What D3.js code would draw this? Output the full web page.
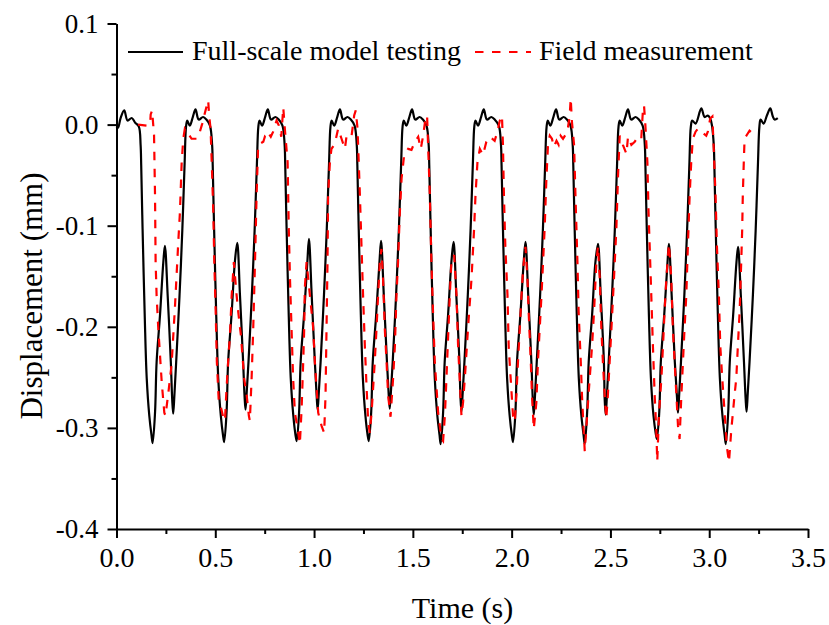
<!DOCTYPE html>
<html>
<head>
<meta charset="utf-8">
<script src="https://cdn.jsdelivr.net/npm/d3@7"></script>
<style>
  body { margin: 0; background: #fff; }
  text { font-family: "Liberation Serif", "Times New Roman", serif; fill: #000; }
</style>
</head>
<body>
<div id="chart"></div>
<script>
// series names, ticks
const seriesNames = ["Full-scale model testing", "Field measurement"];
const xTicks = [0, 0.5, 1.0, 1.5, 2.0, 2.5, 3.0, 3.5];
const xMinorTicks = [0.25, 0.75, 1.25, 1.75, 2.25, 2.75, 3.25];
const yTicks = [0.1, 0.0, -0.1, -0.2, -0.3, -0.4];
const yMinorTicks = [0.05, -0.05, -0.15, -0.25, -0.35];

// [time (s), displacement (mm)]
const modelTesting = [
  [0.000,-0.002],[0.008,-0.003],[0.020,0.006],[0.039,0.014],[0.056,0.004],[0.077,0.0065],[0.094,0.002],[0.113,-0.002],
  [0.122,-0.020],[0.125,-0.040],[0.132,-0.103],[0.143,-0.190],[0.153,-0.251],[0.166,-0.288],[0.177,-0.307],[0.183,-0.315],
  [0.195,-0.285],[0.203,-0.235],[0.220,-0.189],[0.237,-0.136],[0.245,-0.120],[0.259,-0.169],[0.275,-0.235],[0.282,-0.272],[0.287,-0.286],
  [0.293,-0.268],[0.302,-0.235],[0.319,-0.169],[0.333,-0.105],[0.345,-0.037],[0.352,-0.002],
  [0.358,0.004],[0.371,-0.001],[0.387,0.008],[0.400,0.015],[0.416,0.005],[0.438,0.0075],[0.455,0.005],[0.473,-0.001],
  [0.484,-0.020],[0.487,-0.040],[0.494,-0.103],[0.505,-0.190],[0.515,-0.251],[0.528,-0.288],[0.539,-0.307],[0.545,-0.314],
  [0.557,-0.285],[0.565,-0.235],[0.582,-0.189],[0.599,-0.136],[0.611,-0.117],[0.625,-0.169],[0.641,-0.235],[0.648,-0.268],[0.653,-0.282],
  [0.659,-0.265],[0.668,-0.235],[0.685,-0.169],[0.699,-0.105],[0.711,-0.037],[0.718,-0.002],
  [0.724,0.004],[0.737,-0.001],[0.753,0.008],[0.766,0.015],[0.782,0.005],[0.804,0.0075],[0.821,0.005],[0.840,-0.001],
  [0.851,-0.020],[0.854,-0.040],[0.861,-0.103],[0.872,-0.190],[0.882,-0.251],[0.895,-0.288],[0.906,-0.307],[0.912,-0.313],
  [0.924,-0.285],[0.932,-0.235],[0.949,-0.189],[0.966,-0.136],[0.974,-0.113],[0.988,-0.169],[1.004,-0.235],[1.013,-0.268],[1.018,-0.282],
  [1.024,-0.265],[1.033,-0.235],[1.050,-0.169],[1.064,-0.105],[1.076,-0.037],[1.083,-0.002],
  [1.089,0.004],[1.102,-0.001],[1.118,0.008],[1.131,0.015],[1.147,0.005],[1.169,0.0075],[1.186,0.005],[1.205,-0.001],
  [1.216,-0.020],[1.219,-0.040],[1.226,-0.103],[1.237,-0.190],[1.247,-0.251],[1.260,-0.288],[1.271,-0.307],[1.277,-0.313],
  [1.289,-0.285],[1.297,-0.235],[1.314,-0.189],[1.331,-0.136],[1.339,-0.115],[1.353,-0.169],[1.369,-0.235],[1.378,-0.268],[1.383,-0.281],
  [1.389,-0.264],[1.398,-0.235],[1.415,-0.169],[1.429,-0.105],[1.441,-0.037],[1.448,-0.002],
  [1.454,0.004],[1.467,-0.001],[1.483,0.008],[1.496,0.015],[1.512,0.005],[1.534,0.0075],[1.551,0.005],[1.569,-0.001],
  [1.580,-0.020],[1.583,-0.040],[1.590,-0.103],[1.601,-0.190],[1.611,-0.251],[1.624,-0.288],[1.635,-0.307],[1.641,-0.316],
  [1.653,-0.285],[1.661,-0.235],[1.678,-0.189],[1.695,-0.136],[1.706,-0.116],[1.720,-0.169],[1.736,-0.235],[1.741,-0.270],[1.746,-0.284],
  [1.752,-0.266],[1.761,-0.235],[1.778,-0.169],[1.792,-0.105],[1.804,-0.037],[1.811,-0.002],
  [1.817,0.004],[1.830,-0.001],[1.846,0.008],[1.859,0.015],[1.875,0.005],[1.897,0.0075],[1.914,0.005],[1.935,-0.001],
  [1.946,-0.020],[1.949,-0.040],[1.956,-0.103],[1.967,-0.190],[1.977,-0.251],[1.990,-0.288],[2.001,-0.307],[2.007,-0.314],
  [2.019,-0.285],[2.027,-0.235],[2.044,-0.189],[2.061,-0.136],[2.070,-0.116],[2.084,-0.169],[2.100,-0.235],[2.107,-0.272],[2.112,-0.287],
  [2.118,-0.269],[2.127,-0.235],[2.144,-0.169],[2.158,-0.105],[2.170,-0.037],[2.177,-0.002],
  [2.183,0.004],[2.196,-0.001],[2.212,0.008],[2.225,0.015],[2.241,0.005],[2.263,0.0075],[2.280,0.005],[2.298,-0.001],
  [2.309,-0.020],[2.312,-0.040],[2.319,-0.103],[2.330,-0.190],[2.340,-0.251],[2.353,-0.288],[2.364,-0.307],[2.370,-0.316],
  [2.382,-0.285],[2.390,-0.235],[2.407,-0.189],[2.424,-0.136],[2.437,-0.118],[2.451,-0.169],[2.467,-0.235],[2.471,-0.272],[2.476,-0.287],
  [2.482,-0.269],[2.491,-0.235],[2.508,-0.169],[2.522,-0.105],[2.534,-0.037],[2.541,-0.002],
  [2.547,0.004],[2.560,-0.001],[2.576,0.008],[2.589,0.015],[2.605,0.005],[2.627,0.0075],[2.644,0.005],[2.663,-0.001],
  [2.674,-0.020],[2.677,-0.040],[2.684,-0.103],[2.695,-0.190],[2.705,-0.251],[2.718,-0.288],[2.729,-0.305],[2.735,-0.311],
  [2.747,-0.285],[2.755,-0.235],[2.772,-0.189],[2.789,-0.136],[2.796,-0.118],[2.810,-0.169],[2.826,-0.235],[2.837,-0.270],[2.842,-0.285],
  [2.848,-0.267],[2.857,-0.235],[2.874,-0.169],[2.888,-0.105],[2.900,-0.037],[2.907,-0.002],
  [2.914,0.004],[2.931,0.001],[2.960,0.016],[2.977,0.0075],[2.993,0.009],[3.005,0.006],[3.014,-0.001],
  [3.023,-0.020],[3.026,-0.040],[3.033,-0.103],[3.044,-0.190],[3.054,-0.251],[3.067,-0.288],[3.078,-0.307],[3.084,-0.316],
  [3.096,-0.285],[3.104,-0.235],[3.121,-0.189],[3.138,-0.136],[3.146,-0.121],[3.160,-0.169],[3.176,-0.235],[3.184,-0.270],[3.189,-0.284],
  [3.195,-0.266],[3.204,-0.235],[3.221,-0.169],[3.235,-0.105],[3.247,-0.037],[3.254,-0.002],
  [3.260,0.005],[3.275,0.001],[3.292,0.009],[3.309,0.016],[3.322,0.008],[3.331,0.005],[3.347,0.0065]
];

const fieldMeasurement = [
  [0.109,0.000],[0.153,-0.001],[0.170,0.000],[0.173,0.010],[0.180,0.014],[0.190,-0.010],[0.195,-0.070],[0.198,-0.136],
  [0.203,-0.169],[0.211,-0.200],[0.229,-0.255],[0.242,-0.285],[0.248,-0.288],[0.262,-0.266],[0.279,-0.237],[0.296,-0.180],
  [0.313,-0.115],[0.321,-0.087],[0.330,-0.037],[0.338,-0.014],[0.346,-0.004],[0.380,-0.014],[0.406,-0.014],[0.422,-0.007],
  [0.434,0.001],[0.448,0.012],[0.464,0.024],[0.469,0.009],[0.476,-0.004],[0.482,-0.037],[0.490,-0.087],[0.495,-0.136],
  [0.502,-0.185],[0.508,-0.235],[0.518,-0.275],[0.529,-0.280],[0.541,-0.290],[0.549,-0.293],
  [0.557,-0.261],[0.565,-0.235],[0.574,-0.209],[0.583,-0.169],[0.594,-0.136],[0.608,-0.169],[0.616,-0.185],[0.630,-0.209],
  [0.646,-0.251],[0.659,-0.268],[0.670,-0.288],[0.675,-0.293],[0.684,-0.250],[0.692,-0.202],[0.701,-0.136],[0.709,-0.070],
  [0.717,-0.020],[0.726,-0.019],[0.743,-0.017],[0.751,-0.012],[0.760,-0.014],[0.771,-0.009],[0.781,-0.012],[0.793,-0.007],
  [0.810,0.004],[0.822,-0.001],[0.834,-0.012],[0.844,0.017],[0.852,-0.004],[0.866,-0.037],[0.872,-0.103],[0.878,-0.152],
  [0.886,-0.202],[0.894,-0.251],[0.903,-0.285],[0.917,-0.301],[0.928,-0.316],
  [0.937,-0.281],[0.945,-0.235],[0.950,-0.202],[0.953,-0.162],[0.962,-0.136],[0.979,-0.169],[0.995,-0.200],[1.004,-0.235],
  [1.021,-0.285],[1.038,-0.298],[1.051,-0.305],[1.058,-0.268],[1.063,-0.202],[1.068,-0.136],[1.071,-0.070],[1.080,-0.037],
  [1.088,-0.024],[1.105,-0.019],[1.122,-0.004],[1.139,-0.014],[1.156,-0.024],[1.164,-0.012],[1.172,-0.014],[1.190,-0.011],
  [1.203,0.009],[1.211,0.014],[1.220,-0.004],[1.232,-0.070],[1.240,-0.120],[1.248,-0.169],[1.257,-0.219],[1.266,-0.261],
  [1.274,-0.294],[1.282,-0.305],
  [1.291,-0.285],[1.307,-0.235],[1.316,-0.202],[1.324,-0.169],[1.333,-0.136],[1.341,-0.123],[1.349,-0.152],[1.358,-0.202],
  [1.367,-0.235],[1.375,-0.268],[1.387,-0.289],[1.400,-0.251],[1.409,-0.219],[1.417,-0.169],[1.425,-0.136],[1.434,-0.087],
  [1.443,-0.053],[1.456,-0.030],[1.476,-0.024],[1.493,-0.025],[1.510,-0.017],[1.527,-0.012],[1.540,-0.024],[1.552,-0.011],
  [1.564,0.006],[1.572,0.009],[1.577,-0.020],[1.586,-0.070],[1.594,-0.136],[1.602,-0.185],[1.611,-0.235],[1.628,-0.285],
  [1.645,-0.311],[1.653,-0.313],
  [1.662,-0.288],[1.670,-0.251],[1.678,-0.212],[1.687,-0.169],[1.695,-0.136],[1.709,-0.129],[1.721,-0.169],[1.729,-0.219],
  [1.737,-0.251],[1.746,-0.288],[1.754,-0.275],[1.763,-0.251],[1.779,-0.202],[1.797,-0.152],[1.810,-0.103],[1.817,-0.070],
  [1.827,-0.037],[1.839,-0.024],[1.855,-0.030],[1.872,-0.017],[1.889,-0.012],[1.914,-0.016],[1.928,-0.007],[1.940,0.004],
  [1.951,0.009],[1.956,-0.020],[1.961,-0.070],[1.968,-0.120],[1.979,-0.169],[1.985,-0.219],[1.995,-0.251],[2.007,-0.288],
  [2.016,-0.294],
  [2.024,-0.268],[2.032,-0.235],[2.041,-0.202],[2.050,-0.169],[2.058,-0.143],[2.070,-0.121],[2.080,-0.152],[2.086,-0.185],
  [2.097,-0.235],[2.103,-0.268],[2.112,-0.301],[2.125,-0.275],[2.133,-0.235],[2.142,-0.202],[2.151,-0.169],[2.159,-0.136],
  [2.167,-0.103],[2.176,-0.053],[2.184,-0.020],[2.193,-0.011],[2.204,-0.014],[2.214,-0.022],[2.227,-0.016],[2.238,-0.020],
  [2.248,-0.011],[2.260,-0.014],[2.282,-0.007],[2.294,0.009],[2.299,0.026],[2.305,0.003],[2.316,-0.020],[2.323,-0.070],
  [2.333,-0.136],[2.339,-0.185],[2.350,-0.235],[2.356,-0.268],[2.366,-0.308],[2.370,-0.323],
  [2.383,-0.285],[2.395,-0.251],[2.407,-0.219],[2.417,-0.185],[2.429,-0.136],[2.437,-0.120],[2.446,-0.152],[2.454,-0.202],
  [2.462,-0.235],[2.471,-0.268],[2.479,-0.291],[2.487,-0.268],[2.496,-0.235],[2.505,-0.202],[2.518,-0.152],[2.530,-0.103],
  [2.538,-0.053],[2.547,-0.011],[2.563,-0.020],[2.581,-0.029],[2.589,-0.012],[2.606,-0.020],[2.623,-0.017],[2.639,-0.012],
  [2.656,-0.014],[2.665,0.016],[2.670,0.019],[2.677,-0.001],[2.687,-0.037],[2.693,-0.087],[2.704,-0.152],[2.715,-0.219],
  [2.724,-0.268],[2.732,-0.301],[2.737,-0.333],
  [2.746,-0.285],[2.758,-0.251],[2.766,-0.219],[2.774,-0.185],[2.783,-0.152],[2.796,-0.118],[2.808,-0.152],[2.816,-0.202],
  [2.825,-0.235],[2.834,-0.268],[2.842,-0.298],[2.850,-0.311],[2.859,-0.268],[2.867,-0.235],[2.875,-0.202],[2.884,-0.169],
  [2.892,-0.120],[2.901,-0.070],[2.909,-0.037],[2.917,-0.014],[2.931,-0.007],[2.943,-0.004],[2.985,-0.011],[2.993,-0.007],
  [3.005,0.006],[3.016,0.008],[3.022,-0.020],[3.032,-0.070],[3.039,-0.120],[3.049,-0.169],[3.056,-0.219],[3.066,-0.251],
  [3.078,-0.285],[3.089,-0.318],[3.100,-0.334],
  [3.112,-0.301],[3.120,-0.285],[3.128,-0.268],[3.137,-0.251],[3.145,-0.219],[3.154,-0.185],[3.162,-0.136],[3.167,-0.103],
  [3.170,-0.070],[3.175,-0.037],[3.179,-0.014],[3.188,-0.011],[3.204,-0.006],[3.221,-0.009],[3.230,-0.011]
];

const width = 829, height = 625;
const plot = {left: 116.5, right: 808, top: 23.5, bottom: 529};
const serif = '"Liberation Serif", "Times New Roman", serif';

const svg = d3.select('#chart')
  .append('svg')
  .attr('width', width)
  .attr('height', height);

// scales
const x = d3.scaleLinear().domain([0, 3.5]).range([plot.left, plot.right]);
const y = d3.scaleLinear().domain([-0.4, 0.1]).range([plot.bottom, plot.top]);

const fmt = d => d.toFixed(1);

// lines
const blackLine = d3.line()
  .x(d => x(d[0]))
  .y(d => y(d[1]))
  .curve(d3.curveCatmullRom.alpha(0.5));

const redLine = d3.line()
  .x(d => x(d[0]))
  .y(d => y(d[1]));

svg.append('path')
  .datum(modelTesting)
  .attr('d', blackLine)
  .attr('fill', 'none')
  .attr('stroke', '#000')
  .attr('stroke-width', 2.2)
  .attr('stroke-linejoin', 'round');

svg.append('path')
  .datum(fieldMeasurement)
  .attr('d', redLine)
  .attr('fill', 'none')
  .attr('stroke', '#ff0000')
  .attr('stroke-width', 2.2)
  .attr('stroke-dasharray', '8.5,8.5');

// axes
function styleAxis(g) {
  g.selectAll('path.domain').attr('stroke', '#000').attr('stroke-width', 2);
  g.selectAll('.tick line').attr('stroke', '#000').attr('stroke-width', 2);
  g.selectAll('.tick text').style('font-family', serif).attr('fill', '#000');
}

const xAxis = svg.append('g')
  .attr('transform', `translate(0,${plot.bottom})`)
  .call(d3.axisBottom(x).tickValues(xTicks).tickFormat(fmt).tickSize(9).tickSizeOuter(0).tickPadding(9))
  .attr('font-size', 28)
  .call(styleAxis);

svg.append('g')
  .attr('transform', `translate(0,${plot.bottom})`)
  .call(d3.axisBottom(x).tickValues(xMinorTicks).tickFormat('').tickSize(5).tickSizeOuter(0))
  .call(g => g.select('.domain').remove())
  .call(styleAxis);

const yAxis = svg.append('g')
  .attr('transform', `translate(${plot.left},0)`)
  .call(d3.axisLeft(y).tickValues(yTicks).tickFormat(fmt).tickSize(9).tickSizeOuter(0).tickPadding(9))
  .attr('font-size', 27)
  .call(styleAxis);

svg.append('g')
  .attr('transform', `translate(${plot.left},0)`)
  .call(d3.axisLeft(y).tickValues(yMinorTicks).tickFormat('').tickSize(5).tickSizeOuter(0))
  .call(g => g.select('.domain').remove())
  .call(styleAxis);

// axis titles
svg.append('text')
  .attr('x', 462.5)
  .attr('y', 618)
  .attr('text-anchor', 'middle')
  .style('font-size', '30px')
  .text('Time (s)');

svg.append('text')
  .attr('transform', 'translate(42,296) rotate(-90)')
  .attr('text-anchor', 'middle')
  .style('font-size', '31px')
  .text('Displacement (mm)');

// legend
const legend = svg.append('g').attr('class', 'legend');

legend.append('line')
  .attr('x1', 128).attr('x2', 183)
  .attr('y1', 52).attr('y2', 52)
  .attr('stroke', '#000').attr('stroke-width', 2.2);

legend.append('text')
  .attr('x', 192).attr('y', 60)
  .style('font-size', '28px')
  .text(seriesNames[0]);

legend.append('line')
  .attr('x1', 475).attr('x2', 531)
  .attr('y1', 52).attr('y2', 52)
  .attr('stroke', '#ff0000').attr('stroke-width', 2.2)
  .attr('stroke-dasharray', '8.5,8.5');

legend.append('text')
  .attr('x', 539).attr('y', 60)
  .style('font-size', '28px')
  .text(seriesNames[1]);
</script>
</body>
</html>
